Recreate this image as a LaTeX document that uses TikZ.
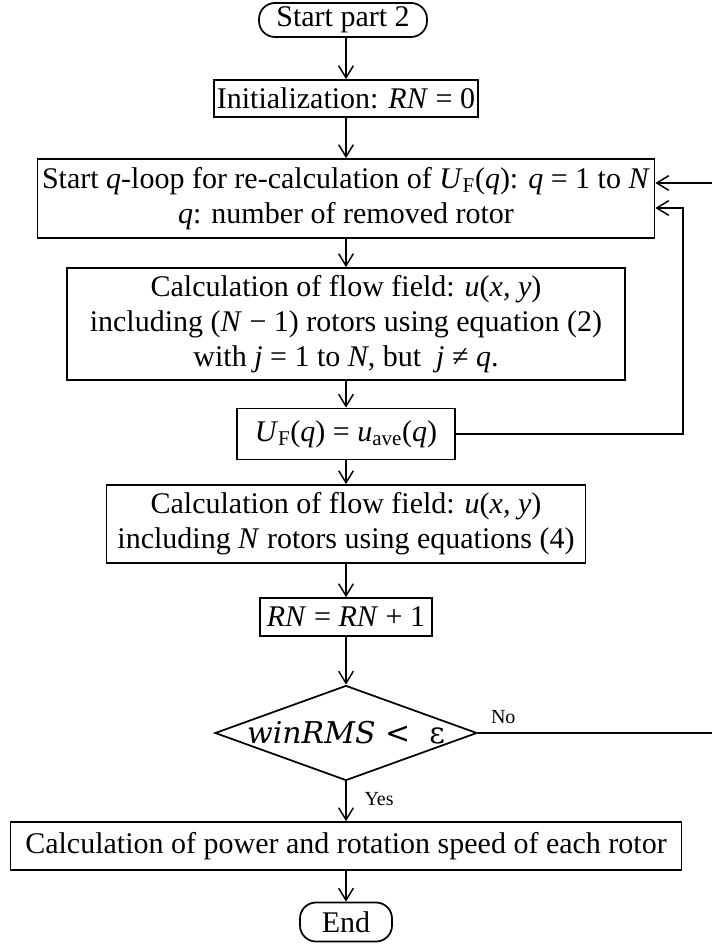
\documentclass[tikz,border=0pt]{standalone}
\usepackage{fontspec}
\setmainfont{Liberation Serif}
\newfontfamily\eqfont{DejaVu Serif}
\usetikzlibrary{arrows.meta,shapes.geometric}
\newcommand\chartfont{\fontsize{22.5}{26}\selectfont}
\begin{document}
\begin{tikzpicture}[x=0.75pt,y=-0.75pt,
  box/.style={draw, line width=1.3pt, align=center, inner sep=0pt, font=\chartfont},
  term/.style={box, rounded corners=12pt},
  test/.style={box, diamond, aspect=2.76},
  arr/.style={-{Straight Barb[length=9pt,width=11pt,line width=1.1pt]}, line width=1.1pt},
  tag/.style={font=\fontsize{15}{17}\selectfont}]
  \useasboundingbox (0,0) rectangle (712,944);
  % Steps
  \node[term, minimum width=126pt, minimum height=25.5pt] (start) at (343,20) {Start part 2};
  \node[box, minimum width=198pt, minimum height=27.75pt] (init) at (346,98.5) {Initialization: \textit{RN} = 0};
  \node[box, minimum width=462.75pt, minimum height=59.25pt] (qloop) at (346,198.5)
    {Start \textit{q}-loop for re-calculation of \textit{U}\textsubscript{F}(\textit{q}): \textit{q} = 1 to \textit{N}\\
     \textit{q}: number of removed rotor};
  \node[box, minimum width=418.5pt, minimum height=84pt] (calc) at (346,324)
    {Calculation of flow field: \textit{u}(\textit{x, y})\\
     including (\textit{N} − 1) rotors using equation (2)\\
     with \textit{j} = 1 to \textit{N}, but\ \ \textit{j} ≠ \textit{q}.};
  \node[box, minimum width=163.5pt, minimum height=38.25pt] (uf) at (346,434)
    {\textit{U}\textsubscript{F}(\textit{q}) = \textit{u}\textsubscript{ave}(\textit{q})};
  \node[box, minimum width=359.25pt, minimum height=58.5pt] (calcall) at (346,524)
    {Calculation of flow field: \textit{u}(\textit{x, y})\\
     including \textit{N} rotors using equations (4)};
  \node[box, minimum width=129pt, minimum height=28.5pt] (count) at (346,617) {\textit{RN} = \textit{RN} + 1};
  \node[test, minimum width=196.5pt, minimum height=71.25pt] (check) at (346,733)
    {\eqfont\textit{winRMS}\ < \ ε};
  \node[box, minimum width=503.25pt, minimum height=36pt] (power) at (346,846)
    {Calculation of power and rotation speed of each rotor};
  \node[term, minimum width=69pt, minimum height=29.25pt] (stop) at (346,922) {End};
  % Main flow
  \draw[arr] (start.south -| init) -- (init);
  \draw[arr] (init) -- (qloop);
  \draw[arr] (qloop) -- (calc);
  \draw[arr] (calc) -- (uf);
  \draw[arr] (uf) -- (calcall);
  \draw[arr] (calcall) -- (count);
  \draw[arr] (count) -- (check);
  \draw[arr] (check) -- node[tag, right, xshift=10pt, yshift=2pt] {Yes} (power);
  \draw[arr] (power) -- (stop);
  % Loops back
  \coordinate (outer) at (714,183);
  \coordinate (inner) at (683,208);
  \draw[arr] (check.east) node[tag, above right, xshift=6pt, yshift=3pt] {No}
    -- (check.east -| outer) -- (outer) -- (outer -| qloop.east);
  \draw[arr] (uf.east) -| (inner) -- (inner -| qloop.east);
\end{tikzpicture}
\end{document}
